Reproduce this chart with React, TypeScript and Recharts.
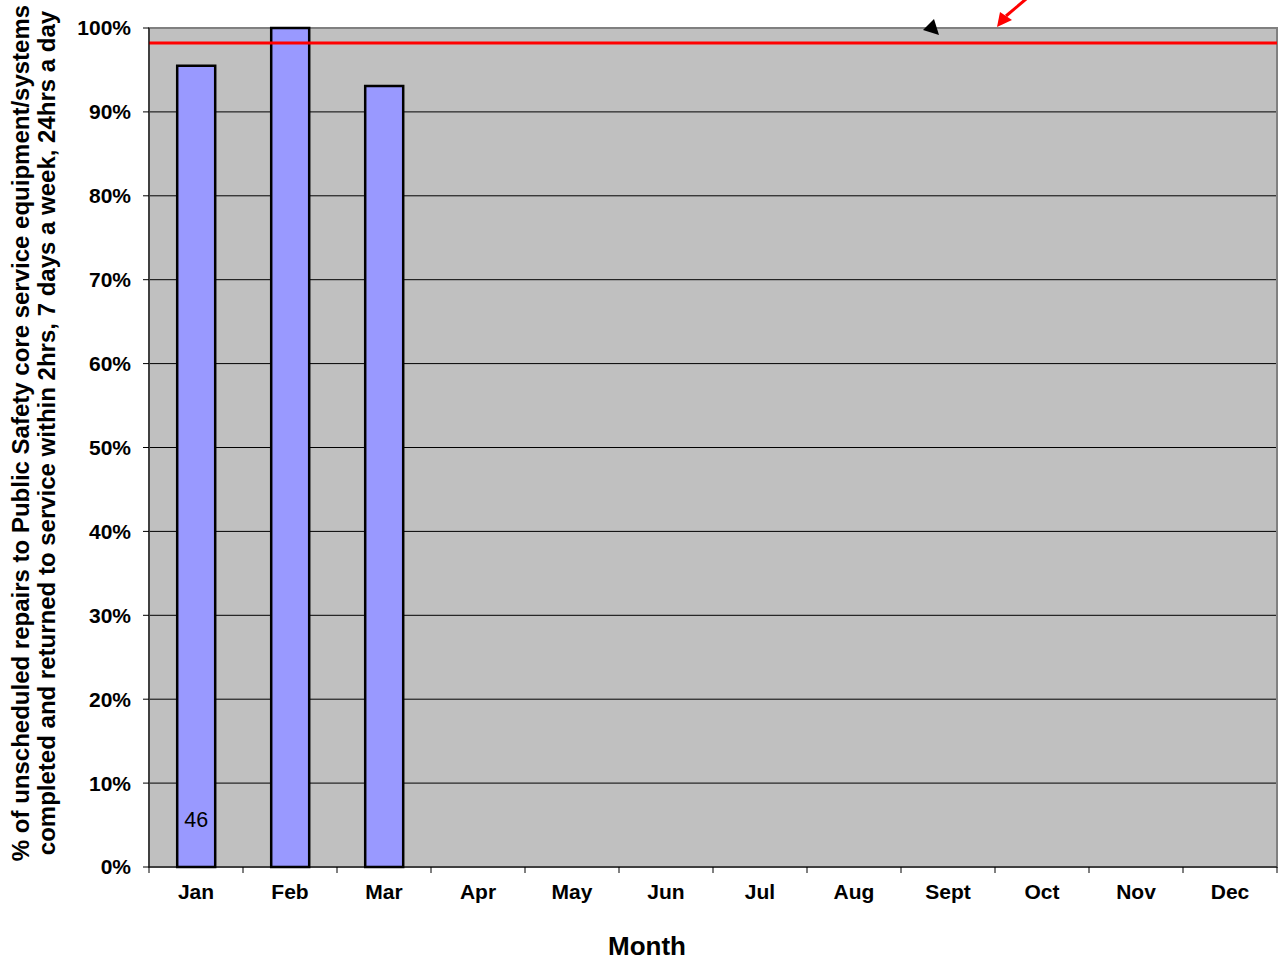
import React from 'react'
import {
  BarChart,
  Bar,
  XAxis,
  YAxis,
  CartesianGrid,
  ReferenceLine,
  ReferenceArea,
  ReferenceDot,
  LabelList,
} from 'recharts'

const months = ['Jan', 'Feb', 'Mar', 'Apr', 'May', 'Jun', 'Jul', 'Aug', 'Sept', 'Oct', 'Nov', 'Dec']
const repairPct: (number | null)[] = [95.5, 100, 93.1, null, null, null, null, null, null, null, null, null]
const barNotes = ['46', '', '', '', '', '', '', '', '', '', '', '']
const target = 98.2
const yTicks = [0, 10, 20, 30, 40, 50, 60, 70, 80, 90, 100]

const data = months.map((m, i) => ({ month: m, pct: repairPct[i], note: barNotes[i] }))

const FONT = '"Liberation Sans", Arial, sans-serif'
const BAND = 94

const MonthTick = (props: any) => {
  const { x, y, payload, index } = props
  const half = BAND / 2
  return (
    <g>
      <line x1={x - half} y1={y - 8} x2={x - half} y2={y - 2} stroke="#000" />
      {index === months.length - 1 && (
        <line x1={x + half} y1={y - 8} x2={x + half} y2={y - 2} stroke="#000" />
      )}
      <text x={x} y={y + 24} textAnchor="middle" fontFamily={FONT} fontWeight="bold" fontSize={21} fill="#000">
        {payload.value}
      </text>
    </g>
  )
}

const YTitle = () => (
  <text
    transform="translate(29,433) rotate(-90)"
    textAnchor="middle"
    fontFamily={FONT}
    fontWeight="bold"
    fontSize={24}
    fill="#000"
  >
    <tspan x={0} y={0}>% of unscheduled repairs to Public Safety core service equipment/systems</tspan>
    <tspan x={0} y={26}>completed and returned to service within 2hrs, 7 days a week, 24hrs a day</tspan>
  </text>
)

// annotation arrows drawn relative to the Sept / 100% point
const Arrows = (props: any) => {
  const { cx, cy } = props
  return (
    <g>
      <polygon
        points={`${cx - 25},${cy + 2} ${cx - 14},${cy - 9} ${cx - 9},${cy + 7}`}
        fill="#000"
      />
      <line x1={cx + 58} y1={cy - 12} x2={cx + 84} y2={cy - 34} stroke="#ff0000" strokeWidth={3} />
      <polygon
        points={`${cx + 49},${cy - 1} ${cx + 52},${cy - 16} ${cx + 64},${cy - 8}`}
        fill="#ff0000"
      />
    </g>
  )
}

export default function App() {
  return (
    <div style={{ position: 'absolute', left: 0, top: 0, width: 1279, height: 962, background: '#fff' }}>
      <BarChart
        width={1279}
        height={962}
        data={data}
        margin={{ top: 28, right: 2, left: 0, bottom: 45 }}
        barCategoryGap="30%"
      >
        <CartesianGrid vertical={false} stroke="#000" fill="#c0c0c0" fillOpacity={1} />
        <ReferenceArea y1={0} y2={100} fill="none" stroke="#808080" strokeWidth={2} ifOverflow="visible" />
        <XAxis
          dataKey="month"
          height={50}
          axisLine={{ stroke: '#000' }}
          tickLine={false}
          interval={0}
          tick={<MonthTick />}
          label={{
            value: 'Month',
            position: 'insideBottom',
            offset: -38,
            dx: -66,
            style: { fontFamily: FONT, fontWeight: 'bold', fontSize: 26, fill: '#000' },
          }}
        />
        <YAxis
          width={149}
          domain={[0, 100]}
          ticks={yTicks}
          interval={0}
          tickFormatter={(v) => `${v}%`}
          axisLine={{ stroke: '#000' }}
          tickLine={{ stroke: '#000' }}
          tickSize={6}
          tickMargin={12}
          tick={{ fontFamily: FONT, fontWeight: 'bold', fontSize: 21, fill: '#000' }}
          label={<YTitle />}
        />
        <Bar dataKey="pct" fill="#9999ff" stroke="#000" strokeWidth={2.5} isAnimationActive={false}>
          <LabelList
            dataKey="note"
            position="insideBottom"
            offset={40}
            style={{ fontFamily: FONT, fontSize: 21.5, fill: '#000' }}
          />
        </Bar>
        <ReferenceLine y={target} stroke="#ff0000" strokeWidth={3} ifOverflow="visible" />
        <ReferenceDot x="Sept" y={100} shape={<Arrows />} ifOverflow="visible" />
      </BarChart>
    </div>
  )
}
